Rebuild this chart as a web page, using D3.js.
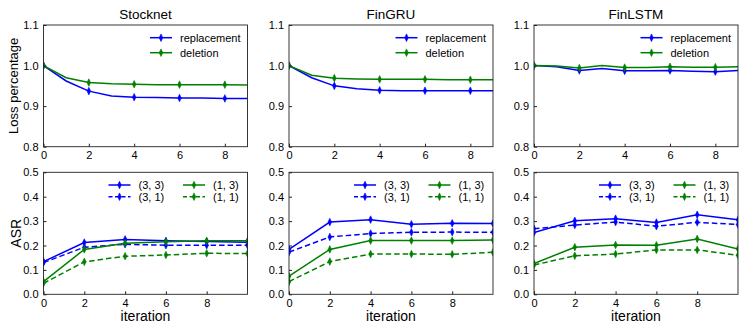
<!DOCTYPE html>
<html><head><meta charset="utf-8">
<script src="https://cdn.jsdelivr.net/npm/d3@7"></script>
<style>body{margin:0;background:#fff}svg{display:block}text{font-family:"Liberation Sans",Arial,sans-serif;fill:#000}</style>
</head><body><svg id="c" width="747" height="333"></svg>
<script>
const models = ["Stocknet", "FinGRU", "FinLSTM"];
const lossX = [0,1,2,3,4,5,6,7,8,9];
const lossSeries = ["replacement", "deletion"];
const lossReplacement = [
  [1.0, 0.962, 0.937, 0.925, 0.922, 0.921, 0.920, 0.920, 0.919, 0.919],
  [1.0, 0.970, 0.950, 0.943, 0.939, 0.938, 0.938, 0.938, 0.938, 0.938],
  [1.0, 0.997, 0.988, 0.993, 0.987, 0.987, 0.988, 0.986, 0.985, 0.988]
];
const lossDeletion = [
  [1.0, 0.970, 0.958, 0.955, 0.954, 0.953, 0.953, 0.953, 0.953, 0.952],
  [1.0, 0.976, 0.969, 0.967, 0.966, 0.966, 0.966, 0.965, 0.965, 0.965],
  [1.0, 0.999, 0.994, 1.000, 0.995, 0.995, 0.997, 0.996, 0.996, 0.997]
];
const asrX = [0,2,4,6,8,10];
const asrSeries = ["(3, 3)", "(3, 1)", "(1, 3)", "(1, 1)"];
const asr33 = [
  [0.134, 0.212, 0.225, 0.219, 0.216, 0.213],
  [0.184, 0.296, 0.306, 0.287, 0.291, 0.290],
  [0.253, 0.301, 0.310, 0.294, 0.326, 0.305]
];
const asr31 = [
  [0.130, 0.193, 0.205, 0.201, 0.201, 0.201],
  [0.173, 0.235, 0.249, 0.254, 0.255, 0.254],
  [0.269, 0.284, 0.296, 0.279, 0.295, 0.286]
];
const asr13 = [
  [0.052, 0.184, 0.209, 0.215, 0.219, 0.219],
  [0.074, 0.184, 0.220, 0.220, 0.220, 0.223],
  [0.126, 0.193, 0.202, 0.201, 0.227, 0.186]
];
const asr11 = [
  [0.045, 0.133, 0.156, 0.161, 0.168, 0.167],
  [0.052, 0.134, 0.165, 0.165, 0.164, 0.172],
  [0.120, 0.158, 0.165, 0.182, 0.182, 0.160]
];
const lossYTicks = [0.8, 0.9, 1.0, 1.1];
const asrYTicks = [0.0, 0.1, 0.2, 0.3, 0.4, 0.5];
const xTicks = [0, 2, 4, 6, 8];

const svg = d3.select("#c");
const BLUE = "#0000ff", GREEN = "#008000";
const panelLeft = [43.5, 289, 534];
const panelW = 204;
const top1 = 25, bot1 = 146.7, top2 = 172.3, bot2 = 294.3;

const defs = svg.append("defs");

function marker(g, x, y, color) {
  g.append("path").attr("d", `M${x},${y-3.8}L${x+1.8},${y}L${x},${y+3.8}L${x-1.8},${y}Z`)
    .attr("fill", color).attr("stroke", color).attr("stroke-width", 0.6);
}

function drawPanel(i, row) {
  const left = panelLeft[i], right = left + panelW;
  const t = row === 0 ? top1 : top2, b = row === 0 ? bot1 : bot2;
  const x = d3.scaleLinear().domain(row === 0 ? [0, 9] : [0, 10]).range([left, right]);
  const y = d3.scaleLinear().domain(row === 0 ? [0.8, 1.1] : [0, 0.5]).range([b, t]);
  const g = svg.append("g");
  const cid = `clip${i}${row}`;
  defs.append("clipPath").attr("id", cid).append("rect")
    .attr("x", left).attr("y", t).attr("width", panelW).attr("height", b - t);
  const pg = g.append("g").attr("clip-path", `url(#${cid})`);
  const line = d3.line().x(d => x(d[0])).y(d => y(d[1]));

  let series;
  if (row === 0) {
    series = [
      {vals: lossReplacement[i], xs: lossX, color: BLUE, dash: null, every: 2},
      {vals: lossDeletion[i], xs: lossX, color: GREEN, dash: null, every: 2}
    ];
  } else {
    series = [
      {vals: asr33[i], xs: asrX, color: BLUE, dash: null, every: 1},
      {vals: asr31[i], xs: asrX, color: BLUE, dash: "5.5,3", every: 1},
      {vals: asr13[i], xs: asrX, color: GREEN, dash: null, every: 1},
      {vals: asr11[i], xs: asrX, color: GREEN, dash: "5.5,3", every: 1}
    ];
  }
  // draw in reverse so first series on top? matplotlib: later on top
  series.forEach(s => {
    const pts = s.xs.map((xv, k) => [xv, s.vals[k]]);
    pg.append("path").attr("d", line(pts)).attr("fill", "none")
      .attr("stroke", s.color).attr("stroke-width", 1.5)
      .attr("stroke-dasharray", s.dash);
    pts.forEach((p, k) => { if (k % s.every === 0) marker(pg, x(p[0]), y(p[1]), s.color); });
  });

  // frame
  g.append("rect").attr("x", left).attr("y", t).attr("width", panelW).attr("height", b - t)
    .attr("fill", "none").attr("stroke", "#222").attr("stroke-width", 0.9);

  // x axis
  const xa = d3.axisBottom(x).tickValues(xTicks).tickSizeInner(-3).tickSizeOuter(0).tickPadding(5)
    .tickFormat(d3.format("d"));
  const xg = g.append("g").attr("transform", `translate(0,${b})`).call(xa);
  xg.select(".domain").remove();
  xg.selectAll("line").attr("stroke", "#222");
  xg.selectAll("text").attr("font-size", 11).attr("font-family", "Liberation Sans, Arial, sans-serif").attr("fill", "#000");

  const yt = row === 0 ? lossYTicks : asrYTicks;
  const ya = d3.axisLeft(y).tickValues(yt).tickSizeInner(-3).tickSizeOuter(0).tickPadding(5)
    .tickFormat(d3.format(".1f"));
  const yg = g.append("g").attr("transform", `translate(${left},0)`).call(ya);
  yg.select(".domain").remove();
  yg.selectAll("line").attr("stroke", "#222");
  yg.selectAll("text").attr("font-size", 11).attr("font-family", "Liberation Sans, Arial, sans-serif").attr("fill", "#000");

  const cx = left + panelW / 2;
  if (row === 0) {
    g.append("text").attr("x", cx).attr("y", 19).attr("text-anchor", "middle")
      .attr("font-size", 13.5).text(models[i]);
    // legend
    const lx = left + 106.5;
    lossSeries.forEach((name, k) => {
      const ly = 37.7 + k * 15;
      const c = k === 0 ? BLUE : GREEN;
      g.append("line").attr("x1", lx).attr("x2", lx + 22).attr("y1", ly).attr("y2", ly)
        .attr("stroke", c).attr("stroke-width", 1.5);
      marker(g, lx + 11, ly, c);
      g.append("text").attr("x", lx + 30).attr("y", ly + 4).attr("font-size", 11).text(name);
    });
    if (i === 0) {
      g.append("text").attr("transform", `translate(18,${(t + b) / 2}) rotate(-90)`)
        .attr("text-anchor", "middle").attr("font-size", 13).text("Loss percentage");
    }
  } else {
    g.append("text").attr("x", cx).attr("y", 321).attr("text-anchor", "middle")
      .attr("font-size", 14).text("iteration");
    const cols = [left + 65, left + 139.5];
    const cfg = [[0, 0, BLUE, null], [0, 1, BLUE, "4,2.5"], [1, 0, GREEN, null], [1, 1, GREEN, "4,2.5"]];
    asrSeries.forEach((name, k) => {
      const [col, r, c, dash] = cfg[k];
      const lx = cols[col], ly = 185 + r * 11.7;
      g.append("line").attr("x1", lx).attr("x2", lx + 22).attr("y1", ly).attr("y2", ly)
        .attr("stroke", c).attr("stroke-width", 1.5).attr("stroke-dasharray", dash);
      marker(g, lx + 11, ly, c);
      g.append("text").attr("x", lx + 30).attr("y", ly + 4).attr("font-size", 11).text(name);
    });
    if (i === 0) {
      g.append("text").attr("transform", `translate(21,${(t + b) / 2}) rotate(-90)`)
        .attr("text-anchor", "middle").attr("font-size", 14).text("ASR");
    }
  }
}
[0, 1, 2].forEach(i => { drawPanel(i, 0); drawPanel(i, 1); });
</script></body></html>
